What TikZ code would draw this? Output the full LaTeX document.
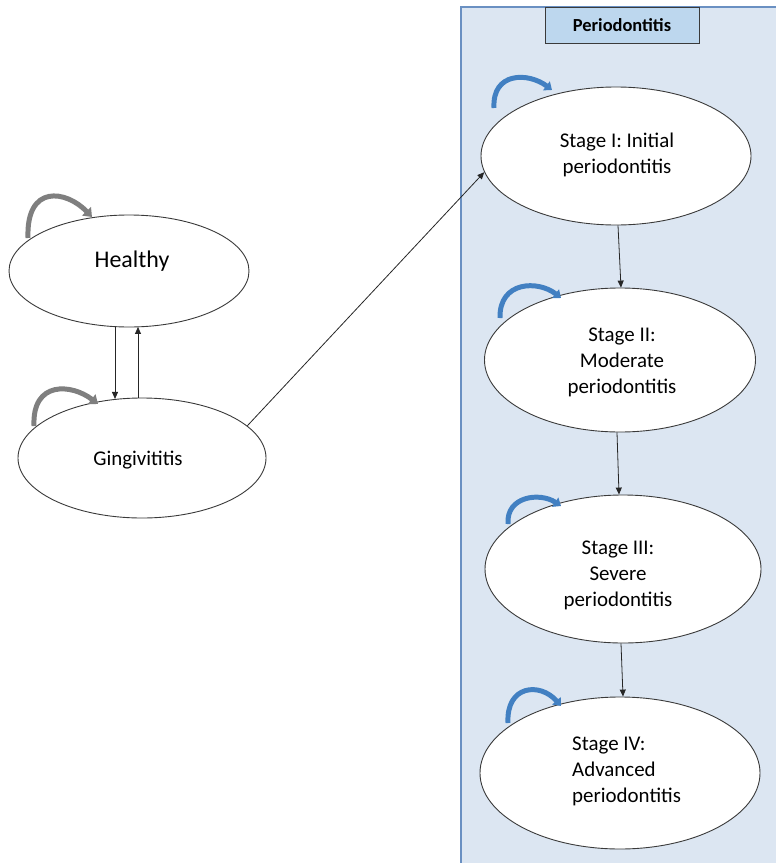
\documentclass[tikz,border=0pt]{standalone}
\usepackage{fontspec}
\setmainfont{Carlito}
\usetikzlibrary{arrows.meta,shapes.geometric,calc}
\definecolor{panelfill}{HTML}{DCE6F2}
\definecolor{panelline}{HTML}{6A90C2}
\definecolor{titlefill}{HTML}{BDD7EE}
\definecolor{loopgray}{HTML}{7F7F7F}
\definecolor{loopblue}{HTML}{4280C2}
\definecolor{edgec}{HTML}{3A3A3A}
\begin{document}
\begin{tikzpicture}[x=1bp,y=-1bp,
  state/.style={ellipse, draw=edgec, line width=0.9pt, fill=white, inner sep=0pt},
  lbl/.style={align=center, font=\fontsize{21}{26}\selectfont, inner sep=0pt},
  flow/.style={-{Triangle[length=7pt,width=6pt]}, line width=0.8pt, draw=black!85},
  loopg/.style={draw=loopgray, line width=5pt, -{Triangle[length=8pt,width=12pt]}},
  loopb/.style={draw=loopblue, line width=5pt, -{Triangle[length=7pt,width=11pt]}},
  titlebox/.style={draw=edgec, fill=titlefill, line width=0.8pt, minimum width=154bp, minimum height=36bp, inner sep=0pt, font=\bfseries\fontsize{18.5}{20}\selectfont}
  ]
\useasboundingbox (0,0) rectangle (776,863);
\clip (0,0) rectangle (776,863);
\fill[white] (-5,-5) rectangle (790,880);
% periodontitis panel
\fill[panelfill] (461,7) rectangle (800,900);
\draw[draw=panelline, line width=1.2pt] (800,7) -- (461,7) -- (461,900);
\node[titlebox] (T) at (622,25) {Periodontitis};
% states
\node[state, minimum width=240bp, minimum height=112bp] (H) at (129,271) {};
\node[state, minimum width=248bp, minimum height=120bp] (G) at (142,458) {};
\node[state, minimum width=270bp, minimum height=138bp] (S1) at (616,156) {};
\node[state, minimum width=271bp, minimum height=144bp] (S2) at (620,360) {};
\node[state, minimum width=276bp, minimum height=148bp] (S3) at (623,569) {};
\node[state, minimum width=280bp, minimum height=152bp] (S4) at (620,773) {};
% labels
\node[lbl, font=\fontsize{24}{28}\selectfont] (Ht) at (132,261) {Healthy};
\node[lbl] (Gt) at (138,460) {Gingivititis};
\node[lbl] (S1t) at (617,155) {Stage I: Initial\\periodontitis};
\node[lbl] (S2t) at (622,362) {Stage II:\\Moderate\\periodontitis};
\node[lbl] (S3t) at (618,575) {Stage III:\\Severe\\periodontitis};
\node[lbl, align=left, anchor=west] (S4t) at (572,771) {Stage IV:\\Advanced\\periodontitis};
% self loops
\draw[loopg] (28,238) .. controls (26,184) and (66,190) .. (92,217);
\draw[loopg] (34,426) .. controls (32,380) and (72,384) .. (98,404);
\draw[loopb] (494,108) .. controls (492,72) and (528,72) .. (552,90);
\draw[loopb] (500,318) .. controls (499,281) and (538,280) .. (561,298);
\draw[loopb] (508,524) .. controls (506,496) and (540,492) .. (561,506);
\draw[loopb] (508,723) .. controls (506,685) and (540,682) .. (561,706);
% transitions
\draw[flow] ($(H.south)+(-14,0)$) -- ($(G.north)+(-27,1.4)$);
\draw[flow] ($(G.north)+(-4,0)$) -- ($(H.south)+(9,-0.5)$);
\draw[flow] (G.17) -- (S1.187);
\draw[flow] ($(S1.south)+(2,0)$) -- ($(S2.north)+(1,0)$);
\draw[flow] ($(S2.south)+(-3,0)$) -- ($(S3.north)+(-4,0)$);
\draw[flow] ($(S3.south)+(-2,0)$) -- ($(S4.north)+(3,0)$);
\end{tikzpicture}
\end{document}
